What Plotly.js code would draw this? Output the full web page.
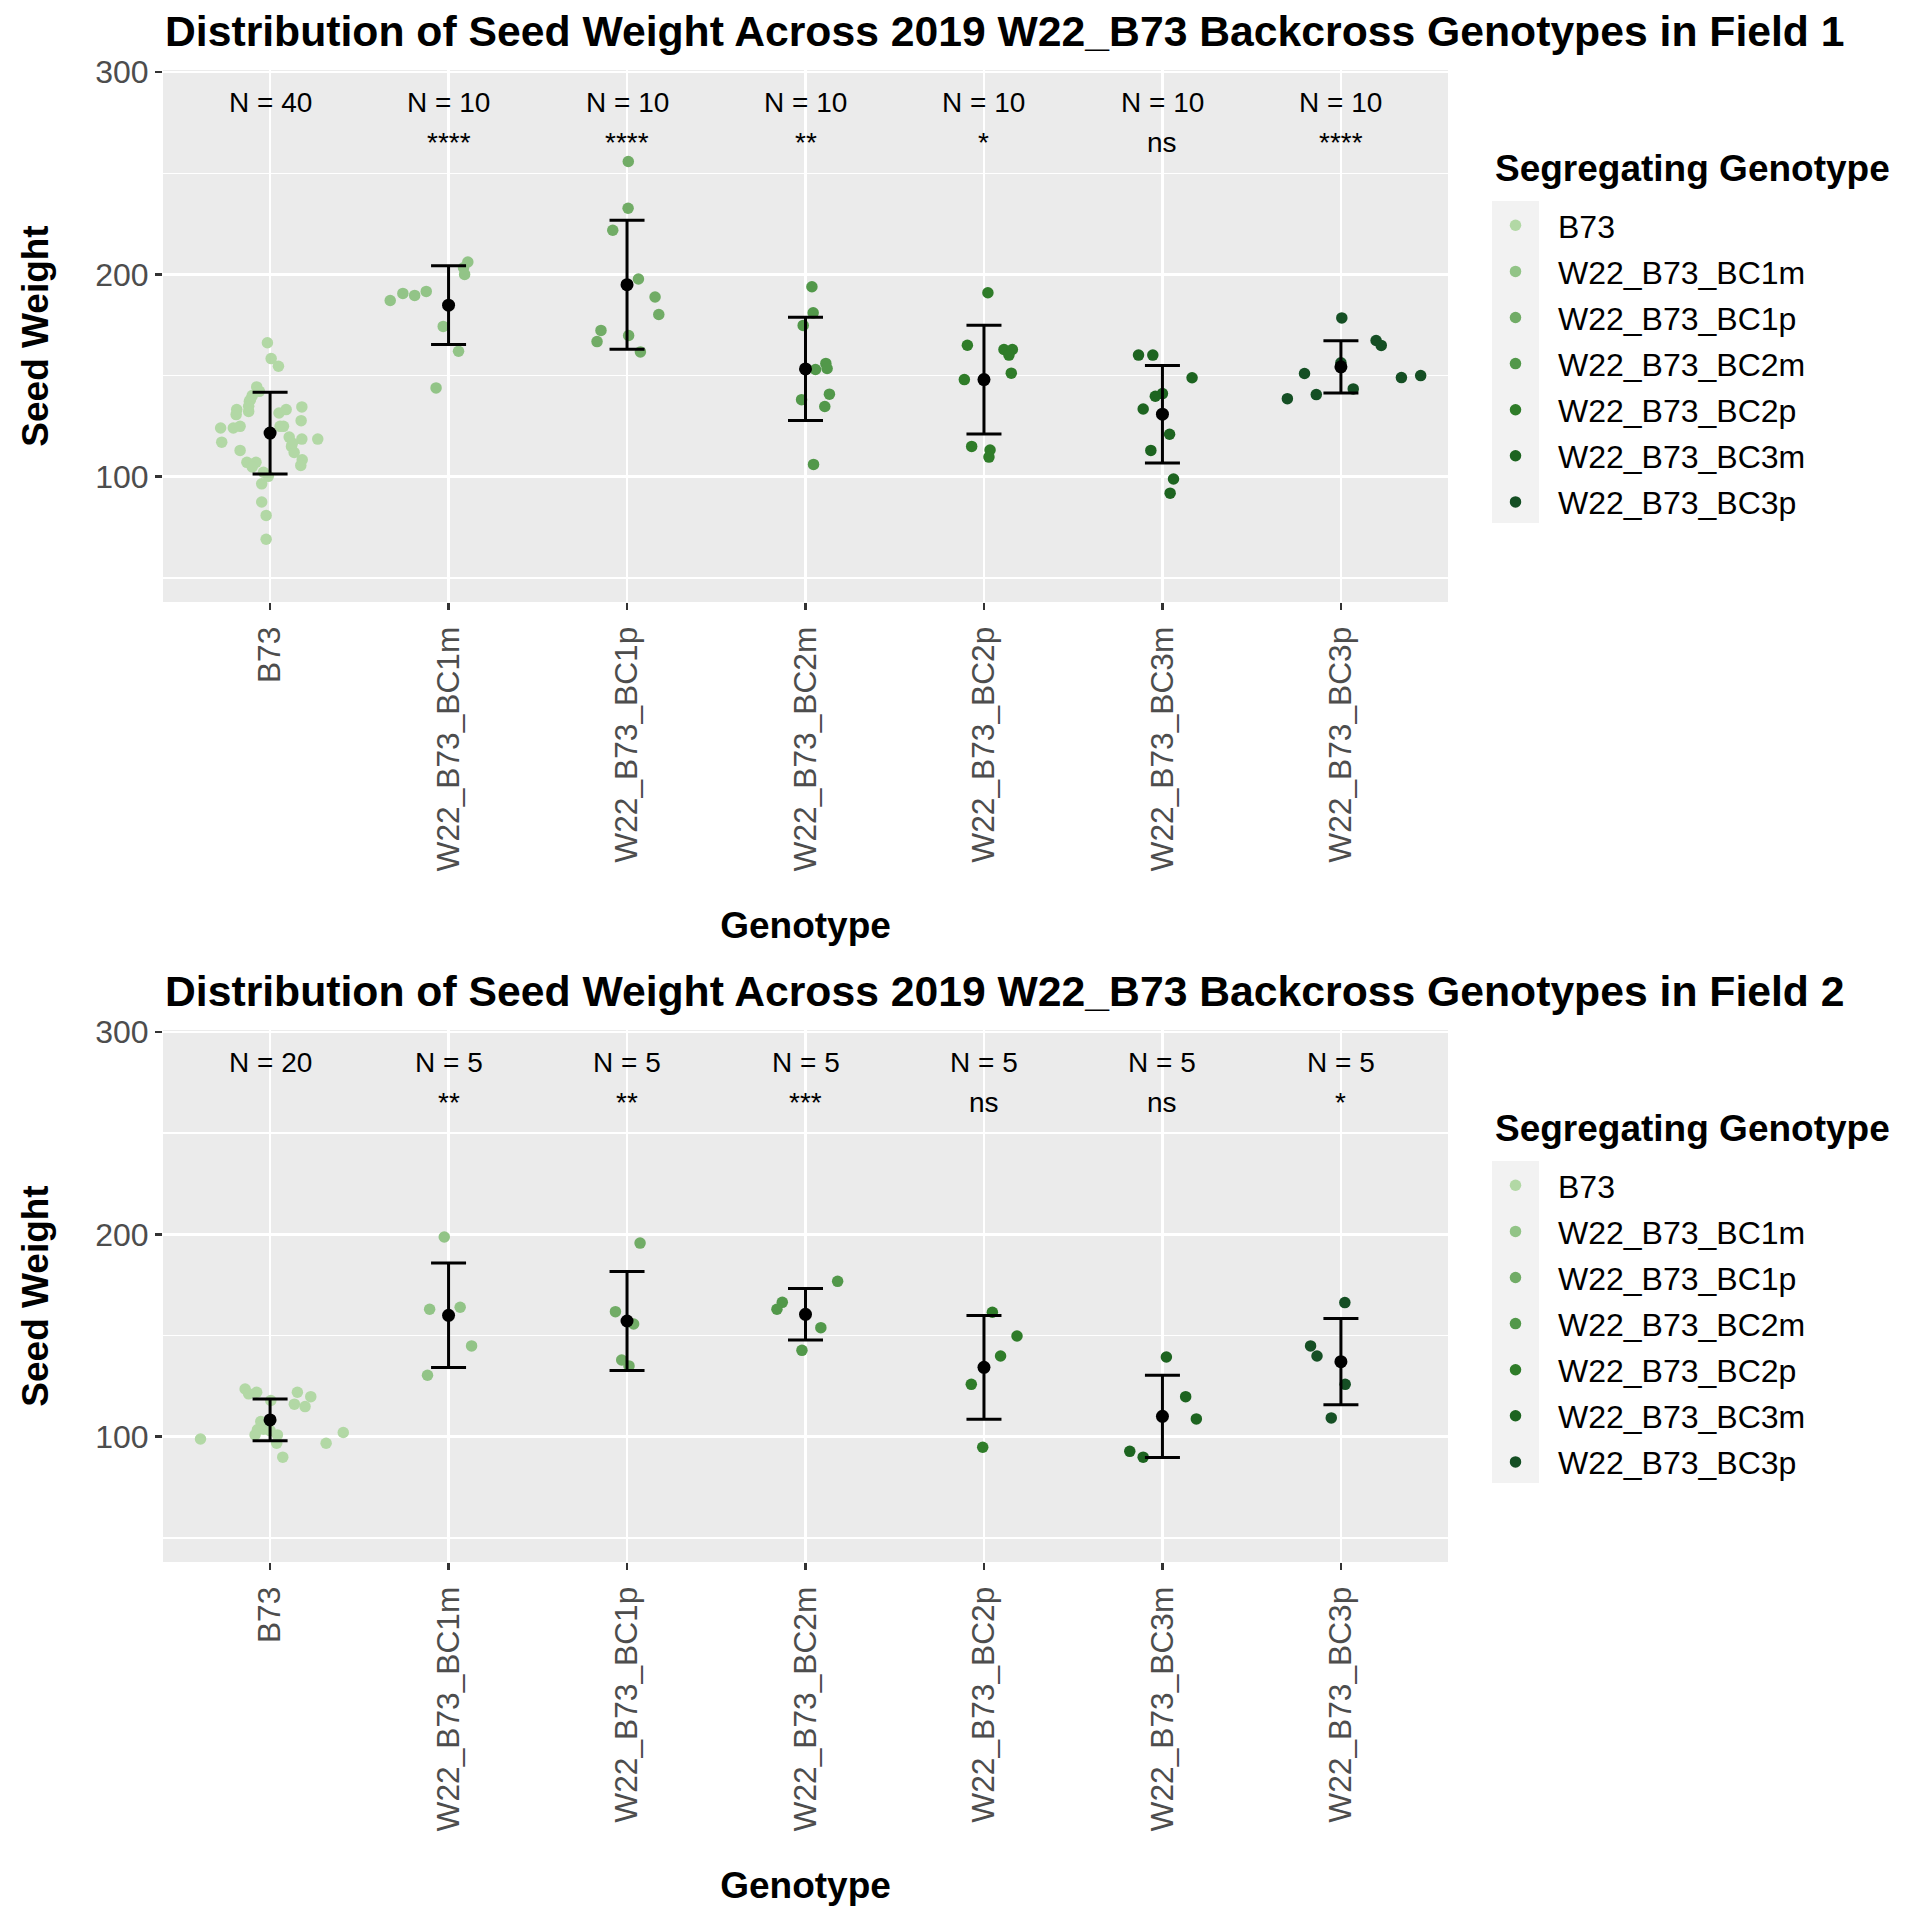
<!DOCTYPE html>
<html>
<head>
<meta charset="utf-8">
<script src="https://cdn.plot.ly/plotly-3.0.1.min.js"></script>
<style>html,body{margin:0;padding:0;background:#fff;}#chart{width:1920px;height:1920px;}</style>
</head>
<body>
<div id="chart"></div>
<script>
// ---------- DATA ----------
const genotypes = ['B73','W22_B73_BC1m','W22_B73_BC1p','W22_B73_BC2m','W22_B73_BC2p','W22_B73_BC3m','W22_B73_BC3p'];
const colors = ['#B2D8A5','#92C487','#71AC66','#52984A','#2F7C29','#1D6420','#154F24'];

const nLabels1 = ['N = 40','N = 10','N = 10','N = 10','N = 10','N = 10','N = 10'];
const sigLabels1 = ['','****','****','**','*','ns','****'];
const nLabels2 = ['N = 20','N = 5','N = 5','N = 5','N = 5','N = 5','N = 5'];
const sigLabels2 = ['','**','**','***','ns','ns','*'];

// Field 1 seed weights and horizontal jitter offsets
const f1_B73 = [166.2,158.4,154.6,144.4,142.2,140.1,137.3,132.3,133.2,130.7,131.5,133.2,134.5,127.7,124.1,124.1,124.9,124.9,124.9,119.6,118.6,118.6,117.1,115.0,112.0,113.0,108.4,105.6,107.1,107.1,104.8,102.2,100.2,96.5,87.5,80.9,69.1,138.1,134.8,116.6];
const f1_B73_jit = [-0.015,0.006,0.047,-0.075,-0.06,-0.10,-0.116,-0.12,-0.187,-0.19,0.05,0.09,0.178,0.174,-0.277,-0.206,-0.168,0.056,0.075,0.107,0.178,0.267,-0.271,0.12,0.135,-0.168,0.18,0.172,-0.13,-0.079,-0.10,-0.037,-0.01,-0.047,-0.047,-0.022,-0.022,-0.11,-0.12,0.125];
const f1_BC1m = [206.1,203.3,200.0,187.1,190.6,189.6,191.6,174.3,162.0,143.9];
const f1_BC1m_jit = [0.108,0.084,0.09,-0.327,-0.256,-0.19,-0.125,-0.03,0.056,-0.07];
const f1_BC1p = [255.8,232.7,221.8,197.7,188.8,180.2,172.3,166.8,169.8,161.7];
const f1_BC1p_jit = [0.007,0.006,-0.08,0.064,0.157,0.178,-0.146,-0.168,0.009,0.075];
const f1_BC2m = [193.9,181.0,174.8,156.0,153.5,153.0,140.8,138.1,134.7,106.1];
const f1_BC2m_jit = [0.036,0.043,-0.013,0.114,0.121,0.056,0.134,-0.022,0.108,0.045];
const f1_BC2p = [190.9,165.0,162.9,162.9,160.1,151.2,148.0,115.0,113.2,109.7];
const f1_BC2p_jit = [0.022,-0.093,0.112,0.159,0.14,0.153,-0.11,-0.069,0.034,0.028];
const f1_BC3m = [160.1,160.1,148.9,141.1,139.8,133.5,121.0,113.0,98.9,91.9];
const f1_BC3m_jit = [-0.134,-0.054,0.166,0.0,-0.04,-0.108,0.04,-0.065,0.062,0.043];
const f1_BC3p = [178.5,167.3,164.9,156.3,151.0,150.0,149.0,143.4,140.6,138.6];
const f1_BC3p_jit = [0.005,0.197,0.226,0.0,-0.204,0.447,0.339,0.069,-0.138,-0.30];
const f1_mean = [121.6,184.8,194.9,153.3,148.0,130.9,154.3];
const f1_sd = [20.2,19.5,31.9,25.5,26.9,24.1,12.9];

// Field 2
const f2_B73 = [123.6,121.2,122.0,117.9,122.0,119.8,116.1,114.9,107.5,103.4,100.9,103.7,105.4,100.9,96.8,89.9,98.9,96.8,102.1,103.0];
const f2_B73_jit = [-0.14,-0.12,-0.075,0.004,0.153,0.228,0.136,0.196,-0.052,-0.071,-0.084,-0.037,-0.015,0.041,0.037,0.071,-0.39,0.314,0.41,0.0];
const f2_BC1m = [198.7,163.0,164.0,144.9,130.4];
const f2_BC1m_jit = [-0.024,-0.106,0.065,0.129,-0.118];
const f2_BC1p = [195.7,161.8,155.7,137.9,135.0];
const f2_BC1p_jit = [0.073,-0.065,0.037,-0.03,0.011];
const f2_BC2m = [176.8,166.4,163.0,153.9,142.7];
const f2_BC2m_jit = [0.18,-0.13,-0.16,0.086,-0.02];
const f2_BC2p = [161.5,149.8,139.9,125.9,94.8];
const f2_BC2p_jit = [0.047,0.185,0.093,-0.071,-0.007];
const f2_BC3m = [139.4,119.8,108.8,92.8,89.9];
const f2_BC3m_jit = [0.022,0.13,0.19,-0.183,-0.108];
const f2_BC3p = [166.3,144.9,139.9,125.9,109.3];
const f2_BC3p_jit = [0.022,-0.17,-0.134,0.024,-0.054];
const f2_mean = [108.3,160.0,157.2,160.5,134.3,110.1,137.1];
const f2_sd = [10.3,25.8,24.5,12.7,25.6,20.3,21.3];

const field1 = [[f1_B73,f1_B73_jit],[f1_BC1m,f1_BC1m_jit],[f1_BC1p,f1_BC1p_jit],[f1_BC2m,f1_BC2m_jit],[f1_BC2p,f1_BC2p_jit],[f1_BC3m,f1_BC3m_jit],[f1_BC3p,f1_BC3p_jit]];
const field2 = [[f2_B73,f2_B73_jit],[f2_BC1m,f2_BC1m_jit],[f2_BC1p,f2_BC1p_jit],[f2_BC2m,f2_BC2m_jit],[f2_BC2p,f2_BC2p_jit],[f2_BC3m,f2_BC3m_jit],[f2_BC3p,f2_BC3p_jit]];

// ---------- LAYOUT HELPERS ----------
const W = 1920, H = 1920;
const FONT = 'Liberation Sans, Arial, Helvetica, sans-serif';
const px = v => v / W;
const py = v => 1 - v / H;
const catIdx = genotypes.map((g, i) => i + 1);

const traces = [];
function addPanel(field, means, sds, xa, ya, legendId) {
  field.forEach((pair, i) => {
    const vals = pair[0], jit = pair[1];
    traces.push({
      type: 'scatter', mode: 'markers',
      x: vals.map((v, k) => catIdx[i] + jit[k]), y: vals,
      xaxis: xa, yaxis: ya, name: genotypes[i],
      legend: legendId, legendgroup: legendId + genotypes[i],
      marker: {color: colors[i], size: 11.5, line: {width: 0}},
      hoverinfo: 'y'
    });
  });
  traces.push({
    type: 'scatter', mode: 'markers',
    x: catIdx, y: means, xaxis: xa, yaxis: ya, showlegend: false,
    marker: {color: '#000', size: 13},
    error_y: {type: 'data', array: sds, visible: true, color: '#000', thickness: 3, width: 17.5},
    hoverinfo: 'y'
  });
}
addPanel(field1, f1_mean, f1_sd, 'x', 'y', 'legend');
addPanel(field2, f2_mean, f2_sd, 'x2', 'y2', 'legend2');

function xAxis(anchor) {
  return {
    domain: [px(163), px(1448)], anchor: anchor, range: [0.4, 7.6],
    tickmode: 'array', tickvals: catIdx, ticktext: genotypes, tickangle: -90,
    showgrid: true, gridcolor: '#FFFFFF', gridwidth: 2.7, zeroline: false, showline: false,
    ticks: 'outside', ticklen: 7, tickwidth: 2.5, tickcolor: '#333333', ticklabelstandoff: 4,
    tickfont: {family: FONT, size: 31.7, color: '#4D4D4D'},
    title: {text: '<b>Genotype</b>', font: {family: FONT, size: 37, color: '#000'}, standoff: 41},
    fixedrange: true
  };
}
function yAxis(anchor, top, bottom) {
  return {
    domain: [py(bottom), py(top)], anchor: anchor, range: [38.1, 301.0],
    tickmode: 'array', tickvals: [100, 200, 300],
    showgrid: true, gridcolor: '#FFFFFF', gridwidth: 2.7, zeroline: false, showline: false,
    minor: {tickmode: 'array', tickvals: [50, 150, 250], showgrid: true, gridcolor: '#FFFFFF', gridwidth: 1.4, ticks: ''},
    ticks: 'outside', ticklen: 7, tickwidth: 2.5, tickcolor: '#333333',
    tickfont: {family: FONT, size: 32, color: '#4D4D4D'},
    title: {text: '<b>Seed Weight</b>', font: {family: FONT, size: 37, color: '#000'}, standoff: 35},
    fixedrange: true
  };
}

const annotations = [];
function addLabels(nL, sL, xr, yr) {
  genotypes.forEach((g, i) => {
    annotations.push({x: catIdx[i], y: 285, xref: xr, yref: yr, text: nL[i], showarrow: false,
      font: {family: FONT, size: 28, color: '#000'}, xanchor: 'center', yanchor: 'middle'});
    if (sL[i]) annotations.push({x: catIdx[i], y: 265, xref: xr, yref: yr, text: sL[i], showarrow: false,
      font: {family: FONT, size: 28, color: '#000'}, xanchor: 'center', yanchor: 'middle'});
  });
}
addLabels(nLabels1, sigLabels1, 'x', 'y');
addLabels(nLabels2, sigLabels2, 'x2', 'y2');

const titles = ['Distribution of Seed Weight Across 2019 W22_B73 Backcross Genotypes in Field 1',
                'Distribution of Seed Weight Across 2019 W22_B73 Backcross Genotypes in Field 2'];
[31, 991].forEach((yc, k) => annotations.push({
  x: px(163), y: py(yc), xref: 'paper', yref: 'paper', xanchor: 'left', yanchor: 'middle',
  text: '<b>' + titles[k] + '</b>', showarrow: false, font: {family: FONT, size: 42.7, color: '#000'}
}));
// legend titles
[168, 1128].forEach(yc => annotations.push({
  x: px(1493), y: py(yc), xref: 'paper', yref: 'paper', xanchor: 'left', yanchor: 'middle',
  text: '<b>Segregating Genotype</b>', showarrow: false, font: {family: FONT, size: 37, color: '#000'}
}));

const shapes = [0, 960].map(off => ({
  type: 'rect', xref: 'paper', yref: 'paper', layer: 'below',
  x0: px(1492), x1: px(1539), y0: py(201 + off), y1: py(523 + off),
  fillcolor: '#F2F2F2', line: {width: 0}
}));

function legendCfg(topPx) {
  return {
    x: px(1473), xanchor: 'left', y: py(topPx), yanchor: 'top',
    bgcolor: 'rgba(0,0,0,0)', borderwidth: 0,
    font: {family: FONT, size: 32, color: '#000'},
    itemwidth: 75, tracegroupgap: 1.5, itemsizing: 'trace', traceorder: 'grouped'
  };
}

const layout = {
  width: W, height: H,
  margin: {l: 0, r: 0, t: 0, b: 0},
  paper_bgcolor: '#FFFFFF', plot_bgcolor: '#EBEBEB',
  font: {family: FONT},
  showlegend: true,
  xaxis: xAxis('y'), yaxis: yAxis('x', 70, 602),
  xaxis2: xAxis('y2'), yaxis2: yAxis('x2', 1030, 1562),
  legend: legendCfg(198), legend2: legendCfg(1158),
  annotations: annotations, shapes: shapes
};

Plotly.newPlot('chart', traces, layout, {staticPlot: true, displayModeBar: false});
</script>
</body>
</html>
